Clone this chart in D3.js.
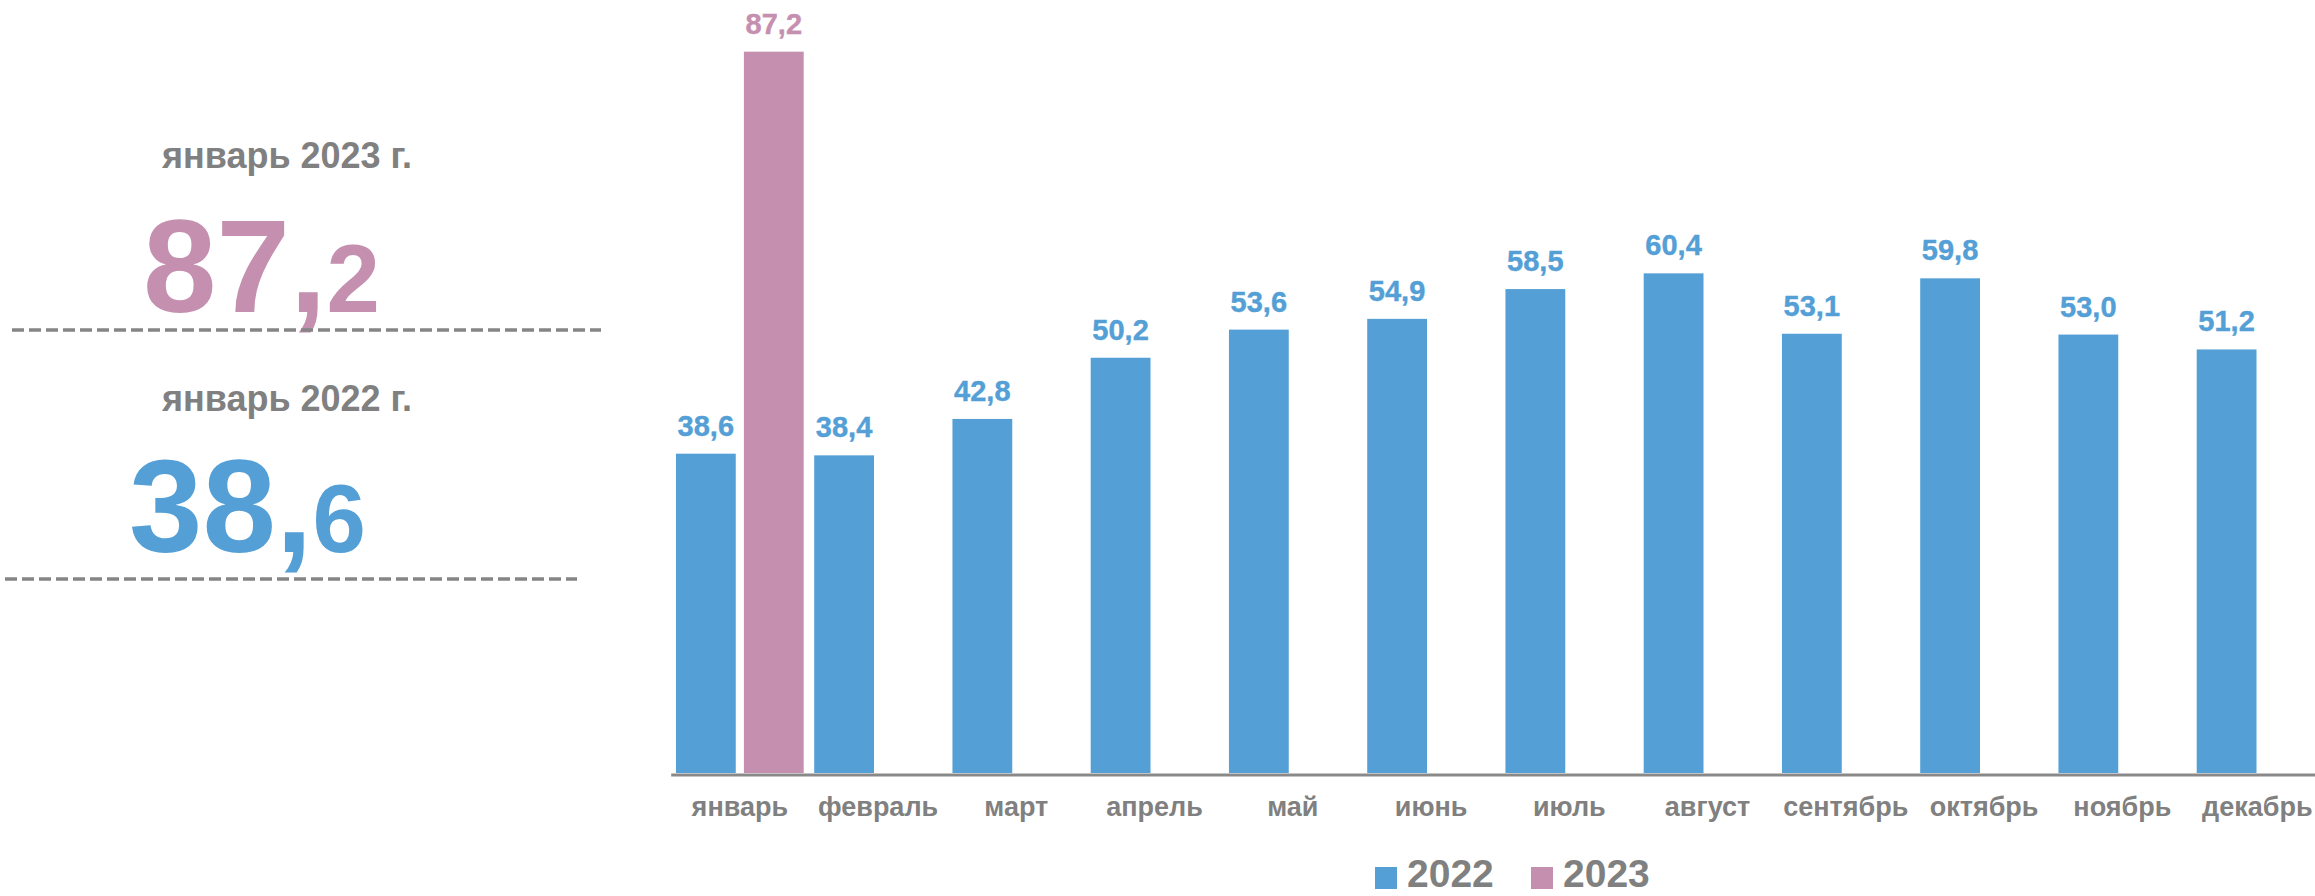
<!DOCTYPE html>
<html><head><meta charset="utf-8">
<script src="https://cdn.jsdelivr.net/npm/d3@7"></script>
<style>
html,body{margin:0;padding:0;background:#fff;}
svg{display:block;font-family:"Liberation Sans",Arial,sans-serif;font-weight:bold;}
</style></head>
<body>
<svg id="chart" width="2315" height="896"></svg>
<script>
const months = ["январь","февраль","март","апрель","май","июнь","июль","август","сентябрь","октябрь","ноябрь","декабрь"];
const series = ["2022","2023"];
const values2022 = [38.6,38.4,42.8,50.2,53.6,54.9,58.5,60.4,53.1,59.8,53.0,51.2];
const values2023 = [87.2,null,null,null,null,null,null,null,null,null,null,null];
const highlightTitles = ["январь 2023 г.","январь 2022 г."];
const highlightValues = [87.2, 38.6];

const colors = {"2022":"#539fd6","2023":"#c58faf"};
const gray = "#808080";
const svg = d3.select("#chart");

const step = 138.25, left = 670.7;
const x0 = d3.scaleBand().domain(months).range([left, left + step*months.length]).paddingInner(0.076).paddingOuter(0.038);
const x1 = d3.scaleBand().domain(series).range([0, x0.bandwidth()]).paddingInner(0.12);
const y = d3.scaleLinear().domain([0, 90]).range([773, 28.5]);
const fmt = v => d3.format(".1f")(v).replace(".", ",");

const rows = months.map((m,i)=>({m, vals:[{s:"2022",v:values2022[i]},{s:"2023",v:values2023[i]}].filter(d=>d.v!=null)}));

const g = svg.append("g");
const grp = g.selectAll("g.grp").data(rows).join("g").attr("transform", d=>`translate(${x0(d.m)},0)`);
grp.selectAll("rect").data(d=>d.vals).join("rect")
  .attr("x", d=>x1(d.s)).attr("width", x1.bandwidth())
  .attr("y", d=>y(d.v)).attr("height", d=>y(0)-y(d.v))
  .attr("fill", d=>colors[d.s]);
grp.selectAll("text.val").data(d=>d.vals).join("text").attr("class","val")
  .attr("x", d=>x1(d.s)+x1.bandwidth()/2).attr("y", d=>y(d.v)-18)
  .attr("text-anchor","middle").attr("font-size",29).attr("fill", d=>colors[d.s])
  .attr("stroke", d=>colors[d.s]).attr("stroke-width",0.4)
  .text(d=>fmt(d.v));

// axis
const ax = svg.append("g").attr("transform",`translate(0,${y(0)+1.5})`)
  .call(d3.axisBottom(x0).tickSize(0).tickPadding(0));
ax.select(".domain").attr("stroke","#898989").attr("stroke-width",3);
ax.selectAll("text").attr("y",41).attr("dy",0).attr("font-size",27).attr("fill",gray)
  .attr("font-family",'"Liberation Sans",Arial,sans-serif').attr("font-weight","bold");
ax.selectAll(".tick").filter(d=>d==="декабрь").select("text").attr("text-anchor","end").attr("x",52);

// legend
const legX = [1375, 1531];
const leg = svg.selectAll("g.leg").data(series).join("g").attr("class","leg")
  .attr("transform",(d,i)=>`translate(${legX[i]},867)`);
leg.append("rect").attr("width",22).attr("height",22).attr("fill",d=>colors[d]);
leg.append("text").attr("x",32).attr("y",20).attr("font-size",39).attr("fill",gray).text(d=>d);

// left panel
const panel = [
  {title:highlightTitles[0], v:highlightValues[0], color:colors["2023"], titleY:168, numX:143, numY:312, lineY:330, lineX:[12,601]},
  {title:highlightTitles[1], v:highlightValues[1], color:colors["2022"], titleY:411, numX:129, numY:552, lineY:579, lineX:[5,577]}
];
panel.forEach(p=>{
  svg.append("text").attr("x",287).attr("y",p.titleY).attr("text-anchor","middle")
    .attr("font-size",36).attr("fill",gray).text(p.title);
  const parts = fmt(p.v).split(",");
  const t = svg.append("text").attr("x",p.numX).attr("y",p.numY).attr("fill",p.color);
  t.append("tspan").attr("font-size",132).text(parts[0]+",");
  t.append("tspan").attr("font-size",96).text(parts[1]);
  svg.append("line").attr("x1",p.lineX[0]).attr("x2",p.lineX[1]).attr("y1",p.lineY).attr("y2",p.lineY)
    .attr("stroke","#858585").attr("stroke-width",3.5).attr("stroke-dasharray","12 5");
});
</script>
</body></html>
